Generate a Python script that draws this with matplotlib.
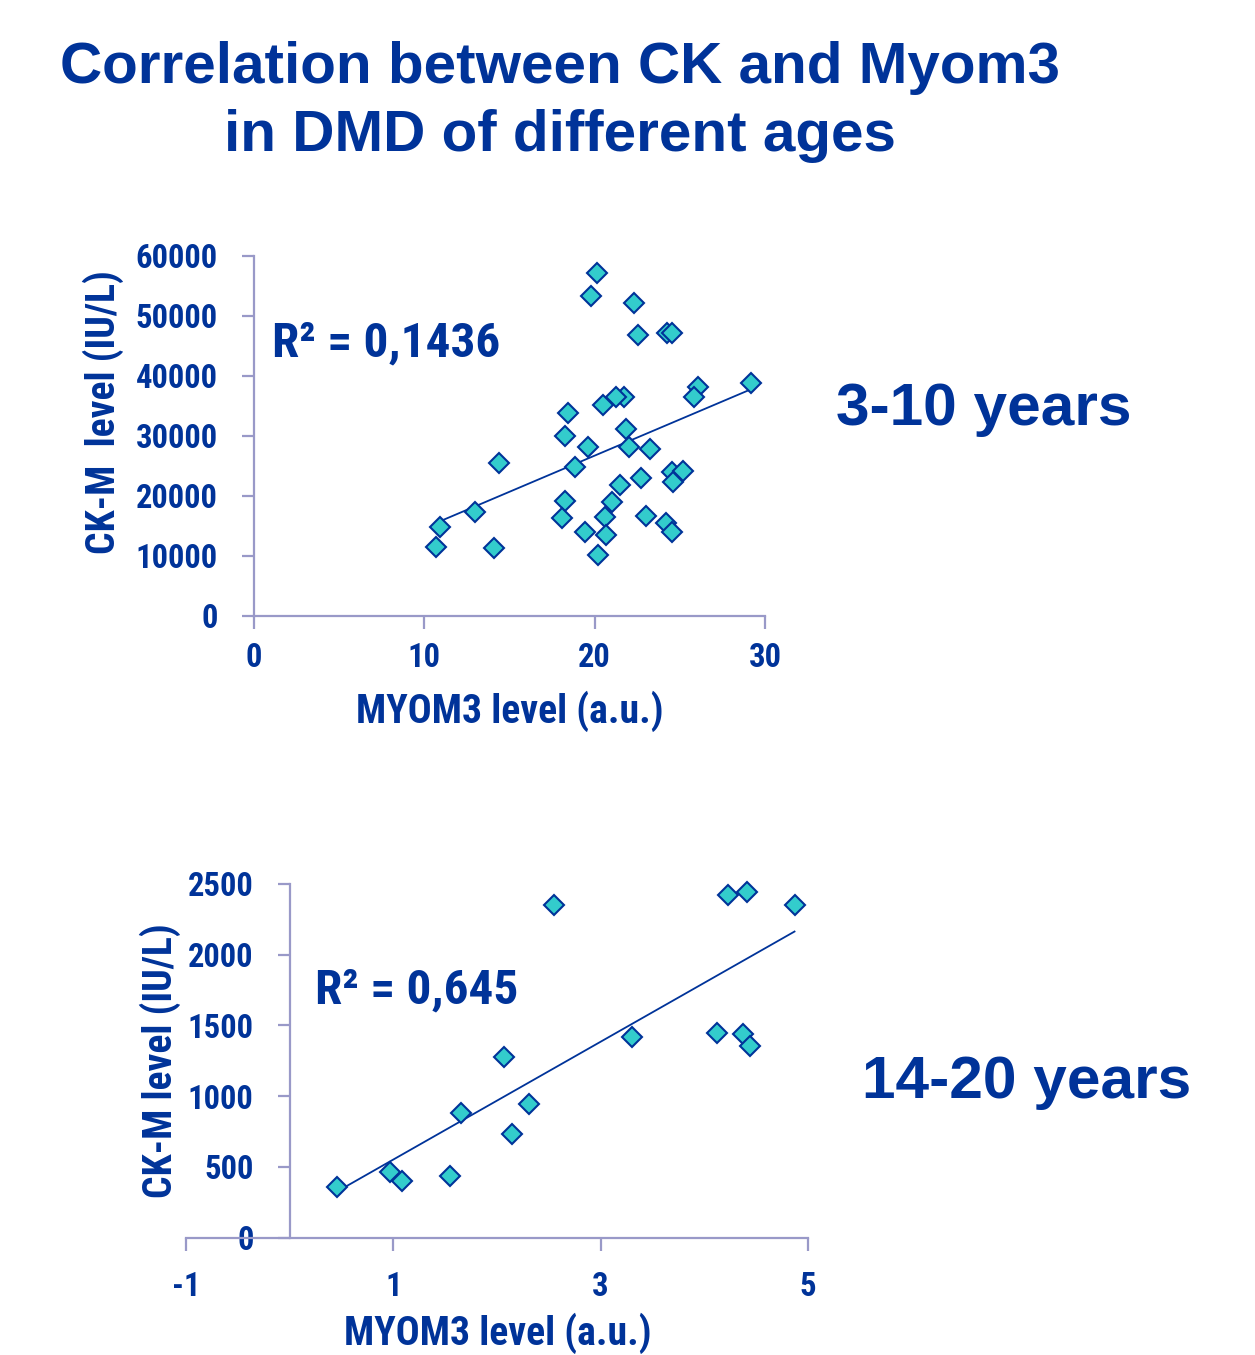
import numpy as np
import matplotlib
matplotlib.use('Agg')
import matplotlib.pyplot as plt
from matplotlib import font_manager as fm
from matplotlib.font_manager import FontProperties

# ---------------- data ----------------
# 3-10 years group
myom3_young = [20.12, 19.77, 22.33, 22.55, 24.23, 24.56, 29.18, 26.05, 25.85, 21.73,
               21.26, 20.51, 18.42, 21.84, 18.26, 19.63, 22.04, 23.25, 18.85, 14.41,
               24.52, 25.17, 24.62, 22.71, 21.49, 21.02, 18.26, 12.98, 10.92, 18.07,
               20.61, 23.02, 24.17, 24.52, 19.44, 20.65, 10.69, 14.09, 20.22]
ck_young = [57170, 53330, 52170, 46780, 47170, 47170, 38730, 38170, 36500, 36500,
            36500, 35120, 33730, 31120, 30000, 28170, 28070, 27730, 24830, 25400,
            24000, 24170, 22330, 23000, 21780, 19000, 19170, 17330, 14830, 16330,
            16500, 16670, 15400, 13900, 14000, 13450, 11400, 11330, 10120]

# 14-20 years group
myom3_old = [0.46, 0.97, 1.08, 1.55, 1.65, 2.07, 2.14, 2.31, 2.55, 3.30,
             4.12, 4.37, 4.44, 4.23, 4.41, 4.87]
ck_old = [355, 461, 402, 435, 878, 1279, 730, 942, 2352, 1420,
          1444, 1437, 1354, 2422, 2443, 2351]

young_xticks = [0, 10, 20, 30]
young_yticks = [0, 10000, 20000, 30000, 40000, 50000, 60000]
old_xticks = [-1, 1, 3, 5]
old_yticks = [0, 500, 1000, 1500, 2000, 2500]

title_lines = ["Correlation between CK and Myom3", "in DMD of different ages"]
r2_young_label = "R\u00b2 = 0,1436"
r2_old_label = "R\u00b2 = 0,645"
group_labels = ["3-10 years", "14-20 years"]
xlabel = "MYOM3 level (a.u.)"
ylabel_young = "CK-M  level (IU/L)"
ylabel_old = "CK-M level (IU/L)"

# ---------------- style ----------------
NAVY = '#003399'
TEAL = '#33CCCC'
AXISC = '#9999C8'
WIDE = ['Liberation Sans', 'DejaVu Sans']


def pick_narrow_bold():
    def wnum(f):
        w = f.weight
        if isinstance(w, str):
            return 700 if 'bold' in w.lower() else 400
        return int(w)

    def cond_rank(f):
        s = (str(f.stretch) + ' ' + f.name + ' ' + f.fname).lower()
        if 'narrow' in s:
            return 0
        if 'semi' in s and 'condensed' in s:
            return 2
        if 'extra' in s or 'ultra' in s:
            return 3
        if 'condensed' in s:
            return 1
        return None

    prefs = ['liberation sans narrow', 'arial narrow', 'liberation', 'arimo',
             'roboto', 'noto sans', 'open sans', 'dejavu sans']
    best = None
    for f in fm.fontManager.ttflist:
        nm = f.name.lower()
        if f.style != 'normal':
            continue
        if any(b in nm for b in ['mono', 'serif', 'cjk', 'symbols', 'math']):
            continue
        r = cond_rank(f)
        if r is None:
            continue
        w = wnum(f)
        if w < 600:
            continue
        pref = next((i for i, p in enumerate(prefs) if nm.startswith(p)), 99)
        key = (pref, r, abs(w - 700))
        if best is None or key < best[0]:
            best = (key, f.fname)
    return best[1] if best else None


NARROW_FILE = pick_narrow_bold()
# size factor: a normal-width fallback is shrunk so widths stay close
NSCALE = 1.0 if NARROW_FILE else 0.84


def nfp(size):
    if NARROW_FILE:
        return FontProperties(fname=NARROW_FILE, size=size)
    return FontProperties(family=WIDE, weight='bold', size=size * NSCALE)


W, H = 1255, 1355
fig = plt.figure(figsize=(W / 100, H / 100), dpi=100)


def fx(px):
    return px / W


def fy(py):
    return 1 - py / H


# title
fig.text(fx(560), fy(83), title_lines[0], ha='center', va='baseline',
         fontsize=42, fontweight='bold', color=NAVY, family=WIDE)
fig.text(fx(560), fy(151), title_lines[1], ha='center', va='baseline',
         fontsize=42, fontweight='bold', color=NAVY, family=WIDE)


def style_axes(ax):
    for s in ['top', 'right']:
        ax.spines[s].set_visible(False)
    for s in ['left', 'bottom']:
        ax.spines[s].set_color(AXISC)
        ax.spines[s].set_linewidth(1.6)
    ax.tick_params(axis='both', direction='out', length=9, width=1.6,
                   color=AXISC, labelcolor=NAVY)
    ax.tick_params(axis='y', pad=17)
    ax.tick_params(axis='x', pad=10)
    for lab in ax.get_xticklabels() + ax.get_yticklabels():
        lab.set_fontproperties(nfp(23.5))


def scatter_with_trend(ax, x, y):
    x = np.asarray(x, float)
    y = np.asarray(y, float)
    m, b = np.polyfit(x, y, 1)
    xs = np.array([x.min(), x.max()])
    ax.plot(xs, m * xs + b, color=NAVY, lw=1.3, zorder=2)
    ax.plot(x, y, linestyle='none', marker='D', ms=10, mfc=TEAL, mec=NAVY,
            mew=1.5, zorder=3, clip_on=False)


# ---- top chart ----
ax1 = fig.add_axes([fx(254), fy(615.7), fx(765) - fx(254), fy(255.7) - fy(615.7)])
scatter_with_trend(ax1, myom3_young, ck_young)
ax1.set_xlim(0, 30)
ax1.set_ylim(0, 60000)
ax1.set_xticks(young_xticks)
ax1.set_yticks(young_yticks)
ax1.set_xticklabels([str(v) for v in young_xticks])
ax1.set_yticklabels([str(v) for v in young_yticks])
style_axes(ax1)
fig.text(fx(272), fy(356), r2_young_label, ha='left', va='baseline',
         fontproperties=nfp(35.5), color=NAVY)

fig.text(fx(510), fy(711), xlabel, ha='center', va='center',
         fontproperties=nfp(28.6), color=NAVY)
fig.text(fx(103), fy(412), ylabel_young, ha='center', va='center', rotation=90,
         fontproperties=nfp(28.6), color=NAVY)
fig.text(fx(836), fy(425), group_labels[0], ha='left', va='baseline',
         fontsize=43.5, fontweight='bold', color=NAVY, family=WIDE)

# ---- bottom chart ----
ax2 = fig.add_axes([fx(186), fy(1237.5), fx(808) - fx(186), fy(884) - fy(1237.5)])
scatter_with_trend(ax2, myom3_old, ck_old)
ax2.set_xlim(-1, 5)
ax2.set_ylim(0, 2500)
ax2.spines['left'].set_position(('data', 0))
ax2.set_xticks(old_xticks)
ax2.set_yticks(old_yticks)
ax2.set_xticklabels([str(v) for v in old_xticks])
ax2.set_yticklabels([str(v) for v in old_yticks])
style_axes(ax2)
ax2.tick_params(axis='x', pad=15)
fig.text(fx(315), fy(1003), r2_old_label, ha='left', va='baseline',
         fontproperties=nfp(35.5), color=NAVY)

fig.text(fx(498), fy(1333), xlabel, ha='center', va='center',
         fontproperties=nfp(28.6), color=NAVY)
fig.text(fx(160), fy(1061), ylabel_old, ha='center', va='center', rotation=90,
         fontproperties=nfp(28.6), color=NAVY)
fig.text(fx(862), fy(1098), group_labels[1], ha='left', va='baseline',
         fontsize=43.5, fontweight='bold', color=NAVY, family=WIDE)

fig.savefig('out.png', dpi=100, facecolor='white')
